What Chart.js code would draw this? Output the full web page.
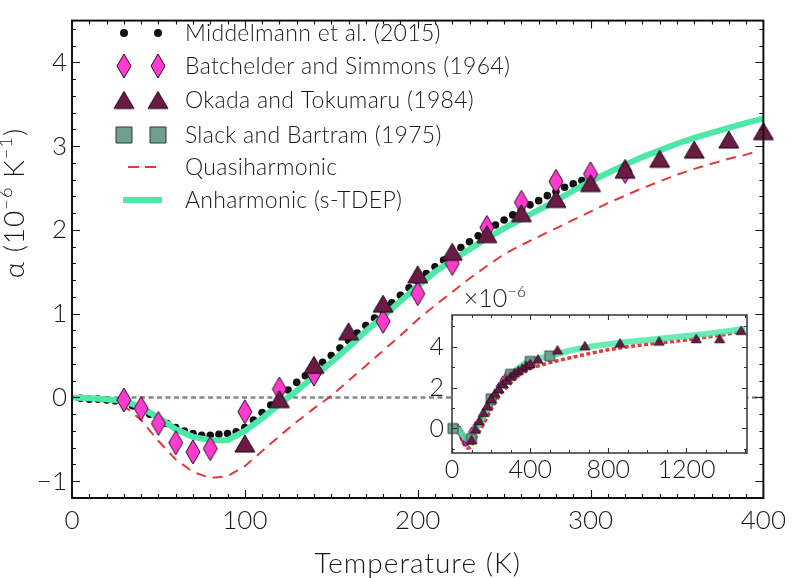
<!DOCTYPE html>
<html>
<head>
<meta charset="utf-8">
<script src="https://cdn.jsdelivr.net/npm/chart.js@4.4.1/dist/chart.umd.min.js"></script>
<style>
  body { margin: 0; background: #fff; }
  #wrap { position: relative; width: 793px; height: 578px; }
  #main { position: absolute; left: 0; top: 0; }
  #inset { position: absolute; left: 410px; top: 280px; }
</style>
</head>
<body>
<div id="wrap">
  <canvas id="main" width="793" height="578"></canvas>
  <canvas id="inset" width="350" height="200"></canvas>
</div>
<script>
// data, alpha in 1e-6 K^-1
const middelmannT = [5, 10, 15, 20, 25, 30, 35, 40, 45, 50, 55, 60, 65, 70, 75, 80, 85, 90, 95, 100,
  105, 110, 115, 120, 125, 130, 135, 140, 145, 150, 155, 160, 165, 170, 175, 180, 185, 190, 195, 200,
  205, 210, 215, 220, 225, 230, 235, 240, 245, 250, 255, 260, 265, 270, 275, 280, 285, 290, 295];
const middelmannA = [-0.01, -0.02, -0.02, -0.03, -0.04, -0.06, -0.1, -0.15, -0.2, -0.26, -0.31, -0.36, -0.4, -0.43, -0.45, -0.45, -0.44, -0.43, -0.41, -0.36,
  -0.27, -0.18, -0.09, 0.0, 0.09, 0.18, 0.26, 0.34, 0.42, 0.5, 0.59, 0.68, 0.77, 0.86, 0.95, 1.04, 1.13, 1.22, 1.31, 1.39,
  1.48, 1.56, 1.64, 1.71, 1.79, 1.86, 1.93, 1.99, 2.06, 2.12, 2.18, 2.24, 2.3, 2.35, 2.41, 2.46, 2.51, 2.55, 2.59];

const batchelderT = [30, 40, 50, 60, 70, 80, 100, 120, 140, 180, 200, 220, 240, 260, 280, 300, 320];
const batchelderA = [-0.03, -0.13, -0.31, -0.54, -0.65, -0.61, -0.17, 0.1, 0.28, 0.91, 1.24, 1.6, 2.03, 2.33, 2.58, 2.67, 2.7];

const okadaT = [100, 120, 140, 160, 180, 200, 220, 240, 260, 280, 300, 320, 340, 360, 380, 400];
const okadaA = [-0.55, -0.02, 0.39, 0.79, 1.12, 1.47, 1.74, 1.95, 2.2, 2.37, 2.56, 2.72, 2.85, 2.96, 3.08, 3.18];
const okadaHighT = [440, 540, 680, 860, 1060, 1250, 1370, 1480];
const okadaHighA = [3.4, 3.85, 4.05, 4.18, 4.28, 4.4, 4.4, 4.8];

const slackT = [5, 100, 200, 300, 400, 500];
const slackA = [0, -0.5, 1.45, 2.65, 3.28, 3.55];

const quasiT = [0, 10, 20, 30, 40, 50, 60, 70, 80, 90, 100, 110, 120, 130, 140, 150, 160, 170, 180, 190,
  200, 210, 220, 230, 240, 250, 260, 270, 280, 290, 300, 310, 320, 330, 340, 350, 360, 370, 380, 390, 395];
const quasiA = [0, 0, -0.02, -0.1, -0.27, -0.52, -0.74, -0.89, -0.96, -0.94, -0.82, -0.64, -0.46, -0.29, -0.13, 0.02, 0.2, 0.38, 0.56, 0.74,
  0.93, 1.1, 1.26, 1.42, 1.57, 1.71, 1.82, 1.92, 2.02, 2.12, 2.22, 2.32, 2.41, 2.5, 2.58, 2.66, 2.73, 2.79, 2.85, 2.9, 2.93];
const quasiHighT = [500, 600, 700, 800, 900, 1000, 1100, 1200, 1300, 1400, 1500];
const quasiHighA = [3.22, 3.45, 3.66, 3.85, 4.0, 4.12, 4.22, 4.33, 4.46, 4.6, 4.78];

const anharmT = [0, 10, 20, 30, 40, 50, 60, 70, 80, 90, 100, 110, 120, 130, 140, 150, 160, 170, 180, 190,
  200, 210, 220, 230, 240, 250, 260, 270, 280, 290, 300, 310, 320, 330, 340, 350, 360, 370, 380, 390, 400];
const anharmA = [0, -0.01, -0.02, -0.04, -0.12, -0.24, -0.38, -0.47, -0.51, -0.51, -0.4, -0.25, -0.08, 0.08, 0.25, 0.42, 0.6, 0.79, 0.97, 1.15,
  1.33, 1.5, 1.64, 1.77, 1.9, 2.02, 2.13, 2.24, 2.35, 2.47, 2.58, 2.68, 2.78, 2.87, 2.95, 3.03, 3.1, 3.16, 3.22, 3.28, 3.33];
const anharmHighT = [500, 600, 700, 800, 900, 1000, 1100, 1200, 1300, 1400, 1500];
const anharmHighA = [3.55, 3.8, 4.0, 4.12, 4.24, 4.33, 4.42, 4.52, 4.62, 4.74, 4.88];

const zeroT = [0, 400];
const zeroA = [0, 0];

const legendLabels = ['Middelmann et al. (2015)', 'Batchelder and Simmons (1964)', 'Okada and Tokumaru (1984)',
  'Slack and Bartram (1975)', 'Quasiharmonic', 'Anharmonic (s-TDEP)'];

const xMajor = [0, 100, 200, 300, 400];
const yMajor = [-1, 0, 1, 2, 3, 4];
const insetXMajor = [0, 400, 800, 1200];
const insetYMajor = [0, 2, 4];

const FONT = 'Lato, "Open Sans", sans-serif';
const TXT = '#1a1a1a';
const GREEN = '#4de8a8';
const RED = '#e5383b';
const PINK = '#ff3ccf';
const MAROON = '#6b1a46';
const SAGE = '#6f9f8e';

function zip(xs, ys) { return xs.map((x, i) => ({ x: x, y: ys[i] })); }

function marker(shape, w, h, fill, stroke, lw) {
  const c = document.createElement('canvas');
  const pad = Math.ceil(lw) + 1;
  c.width = Math.ceil(w) + 2 * pad;
  c.height = Math.ceil(h) + 2 * pad;
  const g = c.getContext('2d');
  g.translate(c.width / 2, c.height / 2);
  g.beginPath();
  if (shape === 'diamond') {
    g.moveTo(0, -h / 2); g.lineTo(w / 2, 0); g.lineTo(0, h / 2); g.lineTo(-w / 2, 0);
  } else if (shape === 'triangle') {
    g.moveTo(0, -h / 2); g.lineTo(w / 2, h / 2); g.lineTo(-w / 2, h / 2);
  } else {
    g.rect(-w / 2, -h / 2, w, h);
  }
  g.closePath();
  g.fillStyle = fill;
  g.fill();
  g.lineWidth = lw;
  g.strokeStyle = stroke;
  g.stroke();
  return c;
}

const diamondBig = marker('diamond', 14, 24, PINK, '#2a0820', 1);
const triBig = marker('triangle', 20, 17, MAROON, '#1a0610', 1);
const squareBig = marker('square', 16, 16, SAGE, '#2b3a35', 1);
const diamondSmall = marker('diamond', 6, 10, PINK, '#2a0820', 0.8);
const triSmall = marker('triangle', 10, 8.5, MAROON, '#1a0610', 0.8);
const squareSmall = marker('square', 10, 10, SAGE, '#2b3a35', 0.8);

// frame with inward ticks on all four sides
function framePlugin(xMinorStep, yMinorStep, majLen, minLen, color, lw) {
  return {
    id: 'frame',
    afterDatasetsDraw(chart) {
      const { ctx, chartArea: a, scales } = chart;
      const xs = scales.x, ys = scales.y;
      ctx.save();
      ctx.strokeStyle = color;
      ctx.lineWidth = 1.1;
      ctx.beginPath();
      for (let v = xs.min; v <= xs.max + 1e-9; v += xMinorStep) {
        const px = Math.round(xs.getPixelForValue(v)) + 0.5;
        const len = xs.ticks.some(t => Math.abs(t.value - v) < 1e-6) ? majLen : minLen;
        ctx.moveTo(px, a.bottom); ctx.lineTo(px, a.bottom - len);
        ctx.moveTo(px, a.top); ctx.lineTo(px, a.top + len);
      }
      const y0 = Math.ceil(ys.min / yMinorStep) * yMinorStep;
      for (let v = y0; v <= ys.max + 1e-9; v += yMinorStep) {
        const py = Math.round(ys.getPixelForValue(v)) + 0.5;
        const len = ys.ticks.some(t => Math.abs(t.value - v) < 1e-6) ? majLen : minLen;
        ctx.moveTo(a.left, py); ctx.lineTo(a.left + len, py);
        ctx.moveTo(a.right, py); ctx.lineTo(a.right - len, py);
      }
      ctx.stroke();
      ctx.lineWidth = lw;
      ctx.strokeRect(a.left, a.top, a.right - a.left, a.bottom - a.top);
      ctx.restore();
    }
  };
}

// text pieces with superscripts, centred on the origin
function drawPieces(ctx, pieces, baseSize) {
  let total = 0;
  pieces.forEach(p => {
    ctx.font = '300 ' + (p.sup ? baseSize * 0.65 : baseSize) + 'px ' + FONT;
    p.w = ctx.measureText(p.t).width;
    total += p.w;
  });
  let x = -total / 2;
  pieces.forEach(p => {
    ctx.font = '300 ' + (p.sup ? baseSize * 0.65 : baseSize) + 'px ' + FONT;
    ctx.fillText(p.t, x, p.sup ? -baseSize * 0.42 : 0);
    x += p.w;
  });
}

const mainDecor = {
  id: 'mainDecor',
  afterDraw(chart) {
    const ctx = chart.ctx;
    ctx.save();
    ctx.fillStyle = TXT;
    ctx.textBaseline = 'middle';
    // x title
    ctx.font = '300 28px ' + FONT;
    ctx.letterSpacing = '1px';
    ctx.textAlign = 'center';
    ctx.fillText('Temperature (K)', (chart.chartArea.left + chart.chartArea.right) / 2, 564);
    // y title
    ctx.save();
    ctx.translate(24, 203);
    ctx.rotate(-Math.PI / 2);
    ctx.textAlign = 'left';
    ctx.textBaseline = 'alphabetic';
    drawPieces(ctx, [{ t: '\u03b1 (10' }, { t: '\u22126', sup: true }, { t: ' K' }, { t: '\u22121', sup: true }, { t: ')' }], 28);
    ctx.restore();

    // legend
    const rowY = [33, 66, 100, 135, 167, 200];
    const mx = [124, 158];
    ctx.font = '300 23px ' + FONT;
    ctx.letterSpacing = '0.3px';
    ctx.textAlign = 'left';
    ctx.textBaseline = 'middle';
    legendLabels.forEach((lab, i) => {
      const y = rowY[i];
      if (i === 0) {
        mx.forEach(x => { ctx.beginPath(); ctx.arc(x, y, 4, 0, Math.PI * 2); ctx.fillStyle = '#111'; ctx.fill(); });
      } else if (i === 1) {
        mx.forEach(x => ctx.drawImage(diamondBig, x - diamondBig.width / 2, y - diamondBig.height / 2));
      } else if (i === 2) {
        mx.forEach(x => ctx.drawImage(triBig, x - triBig.width / 2, y - triBig.height / 2));
      } else if (i === 3) {
        mx.forEach(x => ctx.drawImage(squareBig, x - squareBig.width / 2, y - squareBig.height / 2));
      } else if (i === 4) {
        ctx.strokeStyle = RED; ctx.lineWidth = 2; ctx.setLineDash([11, 6]);
        ctx.beginPath(); ctx.moveTo(128, y); ctx.lineTo(158, y); ctx.stroke(); ctx.setLineDash([]);
      } else {
        ctx.strokeStyle = GREEN; ctx.lineWidth = 6;
        ctx.beginPath(); ctx.moveTo(123, y); ctx.lineTo(162, y); ctx.stroke();
      }
      ctx.fillStyle = TXT;
      ctx.fillText(lab, 185, y + 1);
    });
    ctx.restore();
  }
};

function tickFmt(v) { return v < 0 ? '\u2212' + Math.abs(v) : String(v); }

new Chart(document.getElementById('main'), {
  type: 'scatter',
  data: {
    datasets: [
      { label: 'Okada', data: zip(okadaT, okadaA), pointStyle: triBig, pointRadius: 9, clip: false },
      { label: 'Batchelder', data: zip(batchelderT, batchelderA), pointStyle: diamondBig, pointRadius: 9, clip: false },
      { label: 'Anharmonic', data: zip(anharmT, anharmA), showLine: true, borderColor: GREEN, borderWidth: 6, pointRadius: 0, borderCapStyle: 'round' },
      { label: 'Middelmann', data: zip(middelmannT, middelmannA), pointStyle: 'circle', pointRadius: 3.8, backgroundColor: '#111', borderColor: '#111', borderWidth: 0 },
      { label: 'Quasiharmonic', data: zip(quasiT, quasiA), showLine: true, borderColor: RED, borderWidth: 2, borderDash: [10, 7], pointRadius: 0 },
      { label: 'Slack', data: [], pointStyle: squareBig },
      { label: 'zero', data: zip(zeroT, zeroA), showLine: true, borderColor: '#7d8b8f', borderWidth: 2.5, borderDash: [5, 3.5], pointRadius: 0 }
    ]
  },
  options: {
    responsive: false,
    animation: false,
    devicePixelRatio: 1,
    layout: { padding: { left: 0, right: 23, top: 3, bottom: 0 } },
    plugins: { legend: { display: false }, tooltip: { enabled: false } },
    scales: {
      x: {
        type: 'linear', min: 0, max: 400,
        grid: { display: false, drawTicks: false }, border: { display: false },
        afterBuildTicks(s) { s.ticks = xMajor.map(v => ({ value: v })); },
        afterFit(s) { s.height = 80; },
        ticks: { padding: 7, color: TXT, font: { family: FONT, size: 26, weight: 300 }, maxRotation: 0, callback: tickFmt }
      },
      y: {
        type: 'linear', min: -1.2, max: 4.5,
        grid: { display: false, drawTicks: false }, border: { display: false },
        afterBuildTicks(s) { s.ticks = yMajor.map(v => ({ value: v })); },
        afterFit(s) { s.width = 72; },
        ticks: { padding: 5, color: TXT, font: { family: FONT, size: 26, weight: 300 }, callback: tickFmt }
      }
    }
  },
  plugins: [framePlugin(10, 0.2, 8, 4, '#111', 2), mainDecor]
});

const insetDecor = {
  id: 'insetDecor',
  beforeDatasetsDraw(chart) {
    const a = chart.chartArea;
    chart.ctx.save();
    chart.ctx.fillStyle = '#fff';
    chart.ctx.fillRect(a.left, a.top, a.right - a.left, a.bottom - a.top);
    chart.ctx.restore();
  },
  afterDraw(chart) {
    const ctx = chart.ctx;
    ctx.save();
    ctx.fillStyle = TXT;
    ctx.textBaseline = 'alphabetic';
    ctx.textAlign = 'left';
    ctx.translate(85, 27);
    drawPieces(ctx, [{ t: '\u00d710' }, { t: '\u22126', sup: true }], 25);
    ctx.restore();
  }
};

new Chart(document.getElementById('inset'), {
  type: 'scatter',
  data: {
    datasets: [
      { label: 'Okada', data: zip(okadaT.concat(okadaHighT), okadaA.concat(okadaHighA)), pointStyle: triSmall, pointRadius: 5 },
      { label: 'Slack', data: zip(slackT, slackA), pointStyle: squareSmall, pointRadius: 5, clip: false },
      { label: 'Anharmonic', data: zip(anharmT.concat(anharmHighT), anharmA.concat(anharmHighA)), showLine: true, borderColor: 'rgba(77,232,168,0.85)', borderWidth: 6, pointRadius: 0 },
      { label: 'Batchelder', data: zip(batchelderT, batchelderA), pointStyle: diamondSmall, pointRadius: 5 },
      { label: 'Middelmann', data: zip(middelmannT, middelmannA), pointStyle: 'circle', pointRadius: 1.8, backgroundColor: '#111', borderWidth: 0 },
      { label: 'Quasiharmonic', data: zip(quasiT.concat(quasiHighT), quasiA.concat(quasiHighA)), showLine: true, borderColor: RED, borderWidth: 3.5, borderDash: [4, 2.5], pointRadius: 0 }
    ]
  },
  options: {
    responsive: false,
    animation: false,
    devicePixelRatio: 1,
    layout: { padding: { left: 0, right: 13, top: 35, bottom: 0 } },
    plugins: { legend: { display: false }, tooltip: { enabled: false } },
    scales: {
      x: {
        type: 'linear', min: 0, max: 1510,
        grid: { display: false, drawTicks: false }, border: { display: false },
        afterBuildTicks(s) { s.ticks = insetXMajor.map(v => ({ value: v })); },
        afterFit(s) { s.height = 27; },
        ticks: { padding: 2, color: TXT, font: { family: FONT, size: 25, weight: 300 }, maxRotation: 0, callback: v => String(v) }
      },
      y: {
        type: 'linear', min: -1.2, max: 5.55,
        grid: { display: false, drawTicks: false }, border: { display: false },
        afterBuildTicks(s) { s.ticks = insetYMajor.map(v => ({ value: v })); },
        afterFit(s) { s.width = 42; },
        ticks: { padding: 8, color: TXT, font: { family: FONT, size: 25, weight: 300 }, callback: v => String(v) }
      }
    }
  },
  plugins: [insetDecor, framePlugin(100, 1, 5, 3, '#333', 1.5)]
});
</script>
</body>
</html>
